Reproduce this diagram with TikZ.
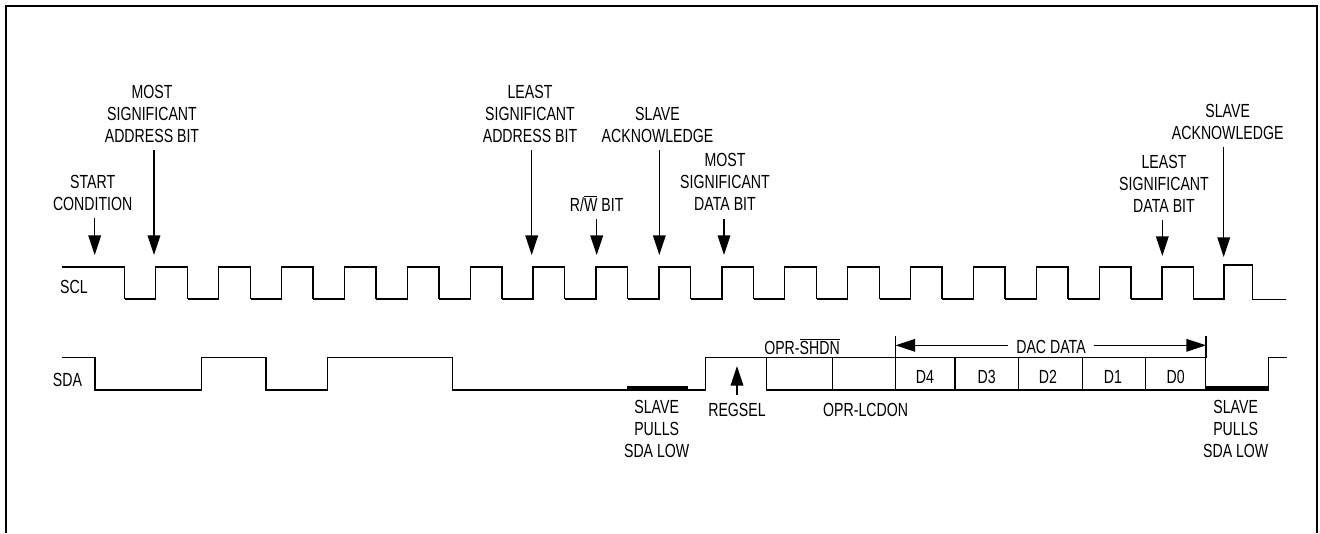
\documentclass[tikz,border=0pt]{standalone}
\usepackage{fontspec}
\setmainfont[FakeStretch=0.745]{Liberation Sans}
\usetikzlibrary{arrows.meta}
\tikzset{
  wave/.style={line width=1pt, line join=miter},
  sigarrow/.style={line width=1pt, -{Triangle[length=14pt,width=9pt]}},
  lbl/.style={inner sep=0pt, outer sep=5.6pt, align=center, font=\fontsize{13.5}{15.6}\selectfont},
  plainlbl/.style={lbl, outer sep=0pt},
}
\begin{document}
\begin{tikzpicture}[x=0.025cm,y=-0.025cm]
        \useasboundingbox (0,0) rectangle (1320,533);
        % frame
        \draw [line width=1.8pt] (6,533) -- (6,6) -- (1317,6) -- (1317,533);
        % SCL
        \draw [wave] (62,267) -- (124.7,267) -- (124.7,299);
        \foreach \k in {0,...,16} {
            \draw [wave] (124.7+62.9*\k,299) -- (155.7+62.9*\k,299) -- (155.7+62.9*\k,267) -- (187.3+62.9*\k,267) -- (187.3+62.9*\k,299);
        }
        \draw [wave] (1193,299) -- (1224,299) -- (1224,265) -- (1252.7,265) -- (1252.7,299.7) -- (1285.7,299.7);
        % SDA
        \draw [wave] (62,357.7) -- (95,357.7) -- (95,390) -- (201.7,390) -- (201.7,357.7) -- (266,357.7) -- (266,390) -- (327.7,390) -- (327.7,357.7) -- (452.3,357.7) -- (452.3,390) -- (705.7,390) -- (705.7,357.7) -- (1205.7,357.7) -- (1205.7,390) -- (766.7,390) -- (766.7,357.7);
        \draw [wave] (1205.7,390) -- (1268.3,390) -- (1268.3,357.7) -- (1287.3,357.7);
        \foreach \x in {832.3,895.5,955,1018.3,1082.7,1145.7} {
            \draw [wave] (\x,357.7) -- (\x,390);
        }
        % slave pulls low
        \fill (627.3,386) rectangle (688.3,390.5);
        \fill (1205.7,386) rectangle (1268.3,390.5);
        % signal names
        \node [plainlbl] (scl) at (74,287) {SCL};
        \node [plainlbl] (sda) at (67.5,380) {SDA};
        % data bits
        \node [plainlbl] (dfour) at (925,376.7) {D4};
        \node [plainlbl] (dthree) at (986.7,376.7) {D3};
        \node [plainlbl] (dtwo) at (1048,376.7) {D2};
        \node [plainlbl] (done) at (1113,376.7) {D1};
        \node [plainlbl] (dzero) at (1175.7,376.7) {D0};
        % labels at the top
        \node [lbl] (startlbl) at (92.7,192.5) {START\\CONDITION};
        \node [lbl] (msalbl) at (152,113.7) {MOST\\SIGNIFICANT\\ADDRESS BIT};
        \node [lbl] (lsalbl) at (530,113.7) {LEAST\\SIGNIFICANT\\ADDRESS BIT};
        \node [lbl] (rwlbl) at (596.7,203.3) {R/$\overline{\mbox{W}}$ BIT};
        \node [lbl] (acklbl) at (657.5,124.7) {SLAVE\\ACKNOWLEDGE};
        \node [lbl] (msdlbl) at (725,182.3) {MOST\\SIGNIFICANT\\DATA BIT};
        \node [lbl] (lsdlbl) at (1164,183.5) {LEAST\\SIGNIFICANT\\DATA BIT};
        \node [lbl] (acktwolbl) at (1227.7,121.7) {SLAVE\\ACKNOWLEDGE};
        % arrow tips on SCL
        \coordinate (starttip) at (94.7,255);
        \coordinate (msatip) at (154,255);
        \coordinate (lsatip) at (531.7,255);
        \coordinate (rwtip) at (596.7,255);
        \coordinate (acktip) at (659.3,255);
        \coordinate (msdtip) at (724,255);
        \coordinate (lsdtip) at (1162.3,256);
        \coordinate (acktwotip) at (1223.7,257);
        \draw [sigarrow] (startlbl.south -| starttip) -- (starttip);
        \draw [sigarrow] (msalbl.south -| msatip) -- (msatip);
        \draw [sigarrow] (lsalbl.south -| lsatip) -- (lsatip);
        \draw [sigarrow] (rwlbl.south -| rwtip) -- (rwtip);
        \draw [sigarrow] (acklbl.south -| acktip) -- (acktip);
        \draw [sigarrow] (msdlbl.south -| msdtip) -- (msdtip);
        \draw [sigarrow] (lsdlbl.south -| lsdtip) -- (lsdtip);
        \draw [sigarrow] (acktwolbl.south -| acktwotip) -- (acktwotip);
        % labels below SDA
        \node [lbl] (pullone) at (656.7,429) {SLAVE\\PULLS\\SDA LOW};
        \node [lbl] (pulltwo) at (1235.7,429) {SLAVE\\PULLS\\SDA LOW};
        \node [lbl] (regsel) at (737,410) {REGSEL};
        \coordinate (regseltip) at (737,366);
        \draw [sigarrow] (regsel.north) -- (regseltip);
        \node [plainlbl] (lcdon) at (865.6,410) {OPR-LCDON};
        \node [plainlbl] (shdn) at (802,346.7) {OPR-$\overline{\mbox{SHDN}}$};
        % DAC data
        \node [lbl] (dacdata) at (1051,346.7) {DAC DATA};
        \coordinate (dacleft) at (895.5,345.3);
        \coordinate (dacright) at (1206,345.3);
        \draw [line width=1pt] (895.5,335.7) -- (895.5,357.7);
        \draw [line width=1pt] (1206,335.7) -- (1206,357.7);
        \draw [sigarrow] (dacdata.west |- dacleft) -- (dacleft);
        \draw [sigarrow] (dacdata.east |- dacright) -- (dacright);
    \end{tikzpicture}
\end{document}
